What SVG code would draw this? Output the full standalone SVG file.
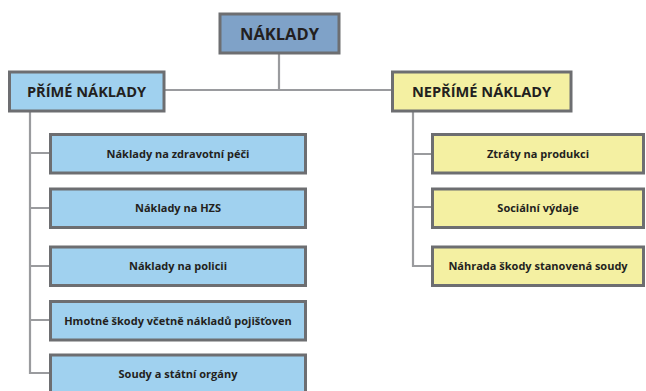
<svg xmlns="http://www.w3.org/2000/svg" width="646" height="391" viewBox="0 0 646 391">
<style>
.box{stroke:#6d6e71;stroke-width:3}
.root{fill:#7fa2c8}
.blue{fill:#a0d1ef}
.yel{fill:#f4f0a2}
.conn{stroke:#9a9b9e;stroke-width:2.2;fill:none}
text{font-family:"Open Sans","Liberation Sans",sans-serif;font-weight:bold;fill:#231f20;text-anchor:middle}
.t1{font-size:16.5px}
.t2{font-size:14.6px}
.t3{font-size:11px}
</style>
<rect width="646" height="391" fill="#ffffff"/>
<g id="connectors">
<path class="conn" d="M279,53 V90 M164,90 H392"/>
<path class="conn" d="M30,111 V373 H50 M30,153 H50 M30,208 H50 M30,266 H50 M30,320 H50"/>
<path class="conn" d="M413,111 V266 H432 M413,154 H432 M413,207 H432"/>
</g>
<g id="n-naklady"><rect class="box root" x="220" y="14" width="119" height="39"/><text class="t1" x="279.5" y="40">NÁKLADY</text></g>
<g id="n-prime"><rect class="box blue" x="9.5" y="72" width="154.5" height="39"/><text class="t2" x="86.5" y="97">PŘÍMÉ NÁKLADY</text></g>
<g id="n-neprime"><rect class="box yel" x="392.5" y="72" width="178.5" height="39"/><text class="t2" x="481.5" y="97">NEPŘÍMÉ NÁKLADY</text></g>
<g id="n-zdrav"><rect class="box blue" x="50.5" y="134.5" width="255" height="38.5"/><text class="t3" x="178" y="157.5">Náklady na zdravotní péči</text></g>
<g id="n-hzs"><rect class="box blue" x="50.5" y="189" width="255" height="38.5"/><text class="t3" x="178" y="212">Náklady na HZS</text></g>
<g id="n-policie"><rect class="box blue" x="50.5" y="247" width="255" height="38.5"/><text class="t3" x="178" y="270">Náklady na policii</text></g>
<g id="n-hmotne"><rect class="box blue" x="50.5" y="301.5" width="255" height="38.5"/><text class="t3" x="178" y="324.5">Hmotné škody včetně nákladů pojišťoven</text></g>
<g id="n-soudy"><rect class="box blue" x="50.5" y="355" width="255" height="38.5"/><text class="t3" x="178" y="378">Soudy a státní orgány</text></g>
<g id="n-ztraty"><rect class="box yel" x="432.5" y="134.5" width="211" height="38.5"/><text class="t3" x="538" y="157.5">Ztráty na produkci</text></g>
<g id="n-social"><rect class="box yel" x="432.5" y="189" width="211" height="38.5"/><text class="t3" x="538" y="212">Sociální výdaje</text></g>
<g id="n-nahrada"><rect class="box yel" x="432.5" y="247" width="211" height="38.5"/><text class="t3" x="538" y="270">Náhrada škody stanovená soudy</text></g>
</svg>
